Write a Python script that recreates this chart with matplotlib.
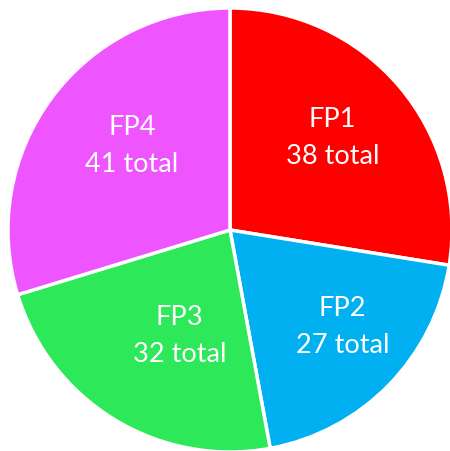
import matplotlib
matplotlib.use("Agg")
import matplotlib.pyplot as plt
import numpy as np

categories = ["FP1", "FP2", "FP3", "FP4"]
values = [38, 27, 32, 41]
colors = ["#FF0000", "#00B0F0", "#2DE858", "#EE55FF"]
# label placement (style): radial distance and angle offset in degrees
label_dist = [0.62, 0.67, 0.53, 0.58]
label_dang = [1.4, 3.4, 6.0, -4.0]

fig = plt.figure(figsize=(4.5, 4.51), dpi=100)
r_px = 222
cx, cy = 230, 451 - 230
ax = fig.add_axes([(cx - r_px) / 450, (cy - r_px) / 451, 2 * r_px / 450, 2 * r_px / 451])
wedges, _ = ax.pie(values, colors=colors, startangle=90, counterclock=False,
                   wedgeprops=dict(edgecolor="white", linewidth=2.5))
for w, c, v, d, da in zip(wedges, categories, values, label_dist, label_dang):
    mid = np.deg2rad((w.theta1 + w.theta2) / 2 + da)
    ax.text(d * np.cos(mid), d * np.sin(mid), f"{c}\n{v} total",
            ha="center", va="center", color="white", fontsize=19.5,
            family="Lato", linespacing=1.6)
ax.set_xlim(-1, 1)
ax.set_ylim(-1, 1)
ax.set_aspect("auto")
ax.axis("off")
fig.savefig("out.png", dpi=100)
